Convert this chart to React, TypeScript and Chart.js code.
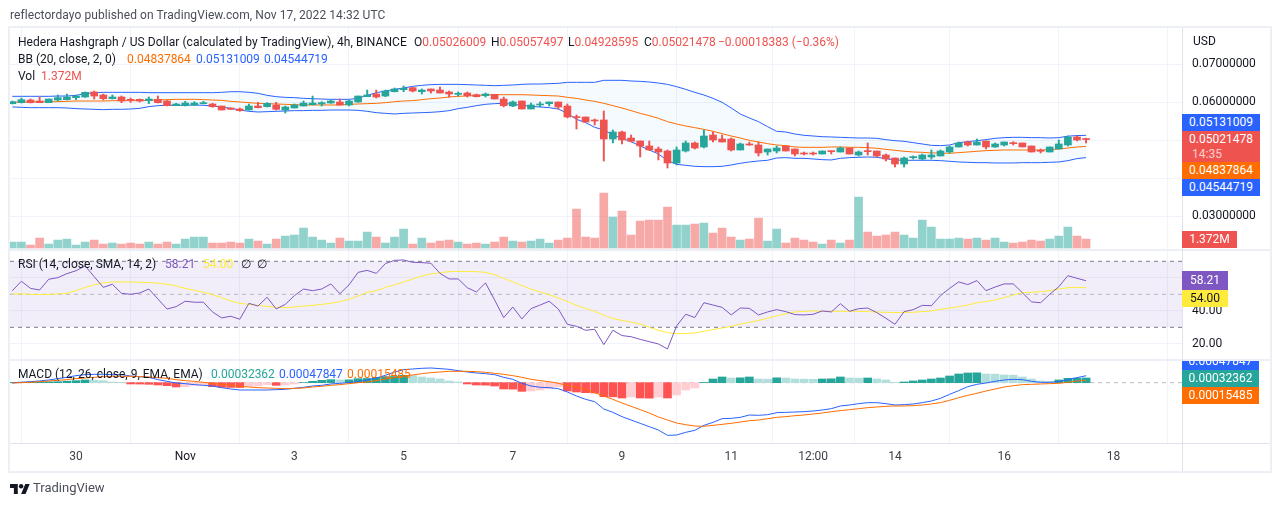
import React, { useEffect, useRef } from "react";
import { Chart, registerables } from "chart.js";

Chart.register(...registerables);

const opens = [
0.05965,0.05991,0.06061,0.06035,0.05991,0.06061,0.06070,0.06123,0.06140,0.06272,
0.06193,0.06096,0.06140,0.06061,0.06079,0.06044,0.06079,0.06035,0.05912,0.05912,
0.05930,0.05965,0.05956,0.05903,0.05851,0.05824,0.05798,0.05903,0.05886,0.05930,
0.05798,0.05851,0.05903,0.05938,0.05956,0.05982,0.06009,0.05930,0.06009,0.06149,
0.06219,0.06166,0.06280,0.06333,0.06386,0.06280,0.06351,0.06324,0.06272,0.06210,
0.06245,0.06201,0.06175,0.06210,0.06087,0.05903,0.06035,0.05824,0.05930,0.05965,
0.06009,0.05903,0.05614,0.05614,0.05535,0.05535,0.05035,0.05219,0.05061,0.04982,
0.04851,0.04772,0.04719,0.04404,0.04719,0.04930,0.04825,0.05140,0.05035,0.05035,
0.04746,0.04904,0.04877,0.04693,0.04719,0.04851,0.04772,0.04658,0.04658,0.04640,
0.04719,0.04693,0.04798,0.04614,0.04719,0.04719,0.04614,0.04535,0.04377,0.04544,
0.04509,0.04561,0.04588,0.04693,0.04825,0.04956,0.04877,0.04982,0.04825,0.04877,
0.04930,0.04930,0.04851,0.04737,0.04693,0.04772,0.04877,0.05088,0.05026];
const highs = [
0.06035,0.06114,0.06087,0.06140,0.06087,0.06193,0.06219,0.06193,0.06272,0.06298,
0.06219,0.06193,0.06166,0.06114,0.06087,0.06140,0.06166,0.06044,0.05973,0.06026,
0.06017,0.06026,0.05973,0.05903,0.05851,0.05851,0.05956,0.06000,0.05991,0.06000,
0.05903,0.05956,0.06035,0.06166,0.06017,0.06061,0.06087,0.06061,0.06166,0.06324,
0.06324,0.06324,0.06377,0.06430,0.06394,0.06351,0.06351,0.06403,0.06298,0.06272,
0.06272,0.06219,0.06245,0.06210,0.06140,0.06035,0.06035,0.05982,0.06009,0.06009,
0.06009,0.05956,0.05667,0.05614,0.05561,0.05772,0.05272,0.05246,0.05140,0.04982,
0.04982,0.04825,0.04746,0.04825,0.04982,0.04956,0.05272,0.05219,0.05140,0.05061,
0.04930,0.04956,0.04956,0.04772,0.04851,0.04851,0.04772,0.04693,0.04693,0.04719,
0.04719,0.04825,0.04798,0.04719,0.04930,0.04719,0.04640,0.04535,0.04561,0.04588,
0.04640,0.04746,0.04746,0.04851,0.04956,0.04982,0.05035,0.04982,0.04930,0.04956,
0.04965,0.04930,0.04851,0.04772,0.04825,0.05009,0.05114,0.05114,0.05057];
const lows = [
0.05956,0.05982,0.05982,0.05991,0.05991,0.06035,0.06061,0.06070,0.06131,0.06087,
0.06061,0.06087,0.05991,0.06000,0.06009,0.05965,0.05982,0.05903,0.05912,0.05903,
0.05912,0.05956,0.05868,0.05798,0.05807,0.05763,0.05798,0.05851,0.05877,0.05798,
0.05719,0.05851,0.05903,0.05930,0.05903,0.05973,0.05930,0.05903,0.06000,0.06149,
0.06114,0.06149,0.06272,0.06280,0.06272,0.06219,0.06245,0.06245,0.06140,0.06166,
0.06140,0.06140,0.06140,0.06087,0.05877,0.05886,0.05824,0.05824,0.05877,0.05903,
0.05824,0.05588,0.05298,0.05474,0.05403,0.04456,0.04930,0.04904,0.04956,0.04561,
0.04737,0.04483,0.04272,0.04351,0.04693,0.04772,0.04798,0.04956,0.04956,0.04719,
0.04746,0.04868,0.04588,0.04614,0.04667,0.04719,0.04588,0.04614,0.04614,0.04640,
0.04640,0.04693,0.04640,0.04588,0.04614,0.04561,0.04456,0.04298,0.04298,0.04509,
0.04483,0.04509,0.04588,0.04667,0.04825,0.04851,0.04877,0.04772,0.04816,0.04851,
0.04877,0.04825,0.04693,0.04667,0.04693,0.04772,0.04851,0.04982,0.04929];
const closes = [
0.06017,0.06070,0.05991,0.05991,0.06087,0.06123,0.06140,0.06166,0.06263,0.06166,
0.06096,0.06140,0.06035,0.06052,0.06035,0.06087,0.05991,0.05912,0.05956,0.05982,
0.05982,0.05982,0.05886,0.05798,0.05816,0.05781,0.05903,0.05859,0.05973,0.05816,
0.05877,0.05930,0.05982,0.05982,0.05991,0.06035,0.05930,0.06035,0.06166,0.06193,
0.06140,0.06298,0.06351,0.06368,0.06298,0.06324,0.06298,0.06245,0.06219,0.06237,
0.06175,0.06149,0.06219,0.06087,0.05912,0.06009,0.05824,0.05930,0.05956,0.06009,
0.05877,0.05614,0.05596,0.05482,0.05509,0.05035,0.05219,0.05009,0.04974,0.04851,
0.04746,0.04693,0.04404,0.04746,0.04930,0.04798,0.05114,0.05009,0.04956,0.04746,
0.04904,0.04877,0.04667,0.04772,0.04798,0.04719,0.04640,0.04640,0.04640,0.04719,
0.04702,0.04798,0.04640,0.04693,0.04702,0.04588,0.04509,0.04377,0.04535,0.04570,
0.04614,0.04614,0.04719,0.04825,0.04930,0.04877,0.04956,0.04825,0.04904,0.04956,
0.04912,0.04825,0.04693,0.04711,0.04825,0.04904,0.05088,0.05009,0.05021];
const volumesM = [
0.93,0.93,0.49,1.52,0.64,1.23,1.38,0.49,0.93,1.23,
0.64,0.79,0.64,0.79,0.64,0.93,0.64,0.93,0.64,1.38,
1.67,1.67,0.79,0.79,0.93,0.79,1.38,1.08,0.64,1.38,
1.82,1.97,3.00,1.67,1.23,0.79,1.52,1.08,1.08,2.41,
1.67,0.79,1.67,2.85,0.64,1.52,0.79,1.08,1.23,0.93,
0.64,0.79,0.64,0.93,1.67,1.08,0.93,1.08,1.38,0.79,
1.23,1.52,5.81,1.67,1.52,8.17,4.63,5.51,1.97,4.03,
4.18,4.18,6.10,3.44,3.44,3.59,3.74,2.26,3.00,1.67,
1.23,1.38,4.48,1.08,2.85,0.79,1.52,1.23,0.93,0.64,
1.23,0.79,1.23,7.58,2.41,1.82,1.97,2.41,1.97,1.52,
4.18,3.15,1.38,1.38,1.52,1.38,1.52,1.23,1.52,0.93,
0.79,0.93,1.23,1.08,1.38,1.82,3.15,1.82,1.372];
const bbUpper = [
0.06158,0.06158,0.06158,0.06158,0.06158,0.06166,0.06166,0.06184,0.06228,0.06254,
0.06263,0.06263,0.06263,0.06263,0.06263,0.06254,0.06254,0.06254,0.06254,0.06254,
0.06254,0.06254,0.06254,0.06263,0.06280,0.06280,0.06263,0.06237,0.06184,0.06149,
0.06131,0.06123,0.06105,0.06096,0.06087,0.06079,0.06079,0.06079,0.06105,0.06184,
0.06254,0.06298,0.06342,0.06377,0.06421,0.06447,0.06465,0.06473,0.06473,0.06473,
0.06465,0.06456,0.06447,0.06438,0.06447,0.06456,0.06473,0.06482,0.06482,0.06491,
0.06500,0.06526,0.06526,0.06526,0.06526,0.06579,0.06579,0.06579,0.06561,0.06552,
0.06535,0.06508,0.06473,0.06412,0.06342,0.06263,0.06193,0.06105,0.06000,0.05851,
0.05693,0.05588,0.05491,0.05360,0.05237,0.05219,0.05167,0.05132,0.05114,0.05096,
0.05088,0.05079,0.05070,0.05061,0.05061,0.05053,0.05018,0.04991,0.04974,0.04939,
0.04904,0.04868,0.04860,0.04877,0.04939,0.04965,0.04991,0.05018,0.05053,0.05070,
0.05079,0.05079,0.05070,0.05070,0.05061,0.05070,0.05110,0.05125,0.05131];
const bbBasis = [
0.06000,0.06009,0.06009,0.06017,0.06017,0.06017,0.06026,0.06035,0.06035,0.06035,
0.06035,0.06044,0.06044,0.06044,0.06044,0.06052,0.06061,0.06070,0.06079,0.06079,
0.06079,0.06070,0.06061,0.06052,0.06026,0.06009,0.05991,0.05973,0.05965,0.05956,
0.05947,0.05938,0.05930,0.05930,0.05930,0.05930,0.05930,0.05947,0.05956,0.05965,
0.05973,0.05991,0.06017,0.06035,0.06044,0.06070,0.06096,0.06114,0.06140,0.06158,
0.06166,0.06184,0.06193,0.06201,0.06201,0.06201,0.06201,0.06193,0.06184,0.06175,
0.06166,0.06131,0.06105,0.06061,0.06026,0.05973,0.05912,0.05851,0.05781,0.05710,
0.05649,0.05579,0.05491,0.05430,0.05377,0.05333,0.05289,0.05237,0.05175,0.05114,
0.05061,0.05000,0.04956,0.04912,0.04877,0.04860,0.04825,0.04816,0.04816,0.04816,
0.04825,0.04825,0.04816,0.04816,0.04807,0.04790,0.04763,0.04737,0.04711,0.04693,
0.04684,0.04667,0.04667,0.04658,0.04676,0.04693,0.04711,0.04728,0.04737,0.04746,
0.04746,0.04746,0.04746,0.04746,0.04754,0.04772,0.04798,0.04825,0.04838];
const bbLower = [
0.05877,0.05868,0.05859,0.05859,0.05859,0.05859,0.05851,0.05833,0.05824,0.05816,
0.05807,0.05816,0.05816,0.05824,0.05842,0.05886,0.05912,0.05921,0.05921,0.05921,
0.05930,0.05921,0.05903,0.05877,0.05842,0.05798,0.05763,0.05745,0.05754,0.05763,
0.05772,0.05781,0.05781,0.05789,0.05789,0.05798,0.05798,0.05798,0.05789,0.05763,
0.05728,0.05710,0.05693,0.05710,0.05719,0.05728,0.05737,0.05754,0.05781,0.05833,
0.05868,0.05912,0.05947,0.05965,0.05973,0.05947,0.05921,0.05895,0.05877,0.05859,
0.05824,0.05710,0.05553,0.05465,0.05342,0.05272,0.05140,0.05053,0.04965,0.04851,
0.04746,0.04640,0.04465,0.04369,0.04342,0.04316,0.04307,0.04307,0.04316,0.04351,
0.04395,0.04430,0.04456,0.04474,0.04535,0.04544,0.04526,0.04526,0.04509,0.04491,
0.04483,0.04526,0.04544,0.04553,0.04561,0.04553,0.04518,0.04483,0.04474,0.04474,
0.04474,0.04474,0.04465,0.04447,0.04430,0.04421,0.04412,0.04412,0.04404,0.04404,
0.04404,0.04412,0.04412,0.04412,0.04421,0.04430,0.04465,0.04518,0.04545];
const rsi = [
52.2,57.9,53.6,52.6,59.1,60.1,62.5,64.3,67.2,60.7,
54.2,56.1,50.6,50.0,50.8,53.2,47.2,41.1,42.5,45.8,
45.2,45.2,39.3,35.7,36.7,34.9,44.5,42.9,48.2,41.1,
43.9,49.2,53.2,52.2,53.2,56.3,50.4,55.7,63.3,64.5,
62.7,68.6,70.6,70.8,69.4,69.2,68.8,62.7,59.3,59.3,
54.0,51.4,56.9,46.6,35.9,42.3,35.1,41.3,43.5,45.8,
41.1,31.8,30.6,28.2,28.8,19.5,28.2,25.0,24.3,22.7,
21.3,19.9,16.9,30.8,37.9,35.9,44.9,43.5,42.1,37.5,
41.7,41.5,37.5,39.3,40.7,39.5,37.7,37.5,37.9,39.9,
39.3,44.3,39.7,41.3,41.7,38.9,35.5,31.8,39.5,40.7,
43.3,43.1,49.2,53.6,57.5,55.9,58.3,52.2,54.4,56.3,
56.3,51.0,45.4,44.9,50.0,54.6,61.3,59.7,58.21];
const rsiMa = [
50.2,50.2,50.0,49.8,50.0,50.2,50.6,52.2,54.2,55.7,
56.9,57.5,57.5,57.5,57.3,57.1,56.7,56.1,55.1,53.6,
52.4,51.2,49.8,48.0,46.0,44.5,43.9,43.3,42.7,42.1,
41.9,42.3,42.9,43.3,43.9,44.5,45.6,47.0,49.0,51.2,
52.2,54.2,55.7,57.5,59.3,61.1,62.3,63.1,63.7,63.9,
63.9,63.7,63.3,61.9,59.7,57.5,55.3,53.2,51.4,49.8,
47.8,45.6,43.3,41.5,39.7,37.3,35.3,34.2,33.2,32.0,
30.0,28.2,26.8,26.2,26.2,26.6,27.6,28.6,29.6,30.6,
32.0,33.0,34.2,35.5,36.9,38.3,39.3,39.7,39.9,39.7,
39.7,39.7,39.7,39.7,39.5,39.3,39.1,38.9,39.1,39.1,
39.5,39.9,40.9,41.7,42.5,43.5,44.9,45.6,46.6,48.0,
49.6,51.0,51.2,51.6,52.2,53.2,54.0,54.2,54.0];
const macdHist = [
0.000023,0.000035,0.000042,0.000046,0.000058,0.000069,0.000104,0.000139,0.000185,0.000173,
0.000139,0.000046,0.000023,-0.000092,-0.000097,-0.000116,-0.000162,-0.000208,-0.000300,-0.000277,
-0.000185,-0.000162,-0.000277,-0.000323,-0.000330,-0.000337,-0.000254,-0.000231,-0.000139,-0.000185,
-0.000162,-0.000092,0.000005,0.000092,0.000162,0.000208,0.000185,0.000196,0.000277,0.000289,
0.000370,0.000416,0.000427,0.000508,0.000485,0.000393,0.000323,0.000254,0.000116,0.000046,
-0.000092,-0.000162,-0.000173,-0.000231,-0.000439,-0.000450,-0.000601,-0.000578,-0.000508,-0.000416,
-0.000277,-0.000578,-0.000647,-0.000693,-0.000716,-0.000970,-0.000982,-0.001063,-0.000993,-0.001063,
-0.001074,-0.000993,-0.001063,-0.000855,-0.000508,-0.000370,0.000012,0.000254,0.000393,0.000323,
0.000335,0.000393,0.000254,0.000243,0.000335,0.000323,0.000254,0.000243,0.000231,0.000254,
0.000266,0.000393,0.000323,0.000312,0.000323,0.000254,0.000185,0.000023,0.000046,0.000116,
0.000185,0.000254,0.000323,0.000462,0.000601,0.000670,0.000681,0.000601,0.000589,0.000531,
0.000520,0.000393,0.000254,0.000116,0.000092,0.000185,0.000300,0.000312,0.00032362];
const macdLine = [
-0.000023,0.000023,0.000069,0.000116,0.000185,0.000277,0.000370,0.000485,0.000554,0.000578,
0.000578,0.000554,0.000554,0.000462,0.000416,0.000370,0.000208,0.000092,-0.000023,-0.000069,
-0.000139,-0.000185,-0.000231,-0.000347,-0.000439,-0.000508,-0.000508,-0.000508,-0.000508,-0.000485,
-0.000462,-0.000393,-0.000323,-0.000231,-0.000185,-0.000092,-0.000046,0,0.000069,0.000185,
0.000323,0.000508,0.000739,0.000901,0.000947,0.000993,0.001016,0.000970,0.000924,0.000832,
0.000739,0.000670,0.000624,0.000554,0.000370,0.000231,-0.000046,-0.000231,-0.000323,-0.000347,
-0.000416,-0.000647,-0.000924,-0.001155,-0.001317,-0.001825,-0.002056,-0.002356,-0.002587,-0.002818,
-0.003049,-0.003280,-0.003650,-0.003627,-0.003442,-0.003303,-0.002957,-0.002749,-0.002495,-0.002472,
-0.002402,-0.002241,-0.002264,-0.002218,-0.002079,-0.002056,-0.002033,-0.002010,-0.001964,-0.001894,
-0.001802,-0.001617,-0.001548,-0.001455,-0.001386,-0.001386,-0.001455,-0.001548,-0.001525,-0.001478,
-0.001386,-0.001271,-0.001086,-0.000809,-0.000554,-0.000277,-0.000116,-0.000023,0.000092,0.000185,
0.000231,0.000208,0.000092,0.000023,0.000023,0.000069,0.000208,0.000347,0.00047847];
const macdSignal = [
-0.000023,0,0.000023,0.000069,0.000116,0.000162,0.000208,0.000277,0.000323,0.000370,
0.000416,0.000439,0.000439,0.000439,0.000416,0.000393,0.000347,0.000300,0.000208,0.000139,
0.000092,0.000023,-0.000046,-0.000116,-0.000185,-0.000254,-0.000300,-0.000347,-0.000370,-0.000393,
-0.000416,-0.000393,-0.000370,-0.000300,-0.000254,-0.000185,-0.000139,-0.000069,0,0.000046,
0.000139,0.000254,0.000347,0.000462,0.000531,0.000624,0.000693,0.000739,0.000785,0.000785,
0.000785,0.000762,0.000716,0.000647,0.000578,0.000485,0.000370,0.000231,0.000139,0.000069,
-0.000046,-0.000185,-0.000323,-0.000462,-0.000693,-0.000924,-0.001155,-0.001409,-0.001640,-0.001871,
-0.002102,-0.002379,-0.002587,-0.002795,-0.002911,-0.003003,-0.003026,-0.002957,-0.002888,-0.002818,
-0.002726,-0.002633,-0.002587,-0.002495,-0.002402,-0.002356,-0.002287,-0.002241,-0.002171,-0.002102,
-0.002010,-0.001940,-0.001871,-0.001802,-0.001733,-0.001686,-0.001640,-0.001617,-0.001617,-0.001594,
-0.001548,-0.001478,-0.001386,-0.001224,-0.001040,-0.000878,-0.000739,-0.000578,-0.000439,-0.000300,
-0.000208,-0.000139,-0.000116,-0.000092,-0.000069,-0.000046,0.000023,0.000116,0.00015485];

const xTickBars = [7, 19, 31, 43, 55, 67, 79, 88, 97, 109, 121];
const xTickLabels = ["30", "Nov", "3", "5", "7", "9", "11", "12:00", "14", "16", "18"];
const priceTicks = [0.03, 0.04, 0.05, 0.06, 0.07];
const rsiTicks = [20, 40, 60];

const UP = "#26a69a";
const DOWN = "#ef5350";
const BLUE = "#2962ff";
const ORANGE = "#ff6d00";
const PURPLE = "#7e57c2";
const YELLOW = "#ffeb3b";
const FONT = "Roboto, sans-serif";

const PANES: Record<string, [number, number]> = {
  yPrice: [28, 249],
  yVol: [28, 248.5],
  yRsi: [251, 359],
  yMacd: [361, 443],
};

const xy = (a: number[]) => a.map((y, i) => ({ x: i, y }));
const isUp = (i: number) => closes[i] >= opens[i];
const XMIN = -0.253;
const XMAX = 128.54;
const flat = (v: number) => [{ x: XMIN, y: v }, { x: XMAX, y: v }];

const paneLayout = {
  id: "paneLayout",
  afterLayout(chart: any) {
    for (const id of Object.keys(PANES)) {
      const s = chart.scales[id];
      s.top = PANES[id][0];
      s.bottom = PANES[id][1];
      s.height = s.bottom - s.top;
      s.configure();
    }
  },
  afterDraw(chart: any) {
    const c = chart.ctx;
    c.save();
    c.strokeStyle = "#eceff5";
    c.lineWidth = 2;
    c.strokeRect(9, 27, 1262, 445);
    c.beginPath();
    c.moveTo(10, 250); c.lineTo(1270, 250);
    c.moveTo(10, 360); c.lineTo(1270, 360);
    c.stroke();
    c.strokeStyle = "#e0e3eb";
    c.lineWidth = 1;
    c.beginPath();
    c.moveTo(10, 443.5); c.lineTo(1270, 443.5);
    c.moveTo(1182.5, 28); c.lineTo(1182.5, 471);
    c.stroke();
    c.restore();
  },
};

const yScale = (min: number, max: number, ticks: number[], fmt: (v: number) => string, grid: boolean) => ({
  position: "right" as const,
  stack: "panes",
  min,
  max,
  afterFit(s: any) { s.width = 88; },
  afterBuildTicks(s: any) { s.ticks = ticks.map((value) => ({ value })); },
  border: { display: false },
  grid: { display: grid, color: "#f0f3fa", drawTicks: false, lineWidth: 1 },
  ticks: {
    autoSkip: false,
    padding: 10,
    color: "#131722",
    font: { family: FONT, size: 12 },
    callback: (v: any) => fmt(Number(v)),
  },
});

const tag = (left: number, top: number, width: number, height: number, bg: string, color = "#fff"): React.CSSProperties => ({
  position: "absolute", left, top, width, height, background: bg, color,
  font: `12px ${FONT}`, lineHeight: `${height}px`, textAlign: "center", overflow: "hidden", whiteSpace: "nowrap",
});

const legend = (left: number, top: number): React.CSSProperties => ({
  position: "absolute", left, top, font: `12px ${FONT}`, lineHeight: "16px", color: "#131722",
  whiteSpace: "pre",
});

export default function App() {
  const ref = useRef<HTMLCanvasElement | null>(null);
  useEffect(() => {
    if (!ref.current) return;
    const idx = opens.map((_, i) => i);
    const bar = (thick: number) => ({ barThickness: thick, grouped: false, borderWidth: 0 });
    const line = (color: string, axis: string, order: number) => ({
      type: "line" as const, yAxisID: axis, borderColor: color, borderWidth: 1, pointRadius: 0, tension: 0, order,
    });
    const histColor = (i: number) => {
      const v = macdHist[i];
      const p = i > 0 ? macdHist[i - 1] : 0;
      if (v >= 0) return v >= p ? "#26a69a" : "#b2dfdb";
      return v < p ? "#ff5252" : "#ffcdd2";
    };
    const chart = new Chart(ref.current, {
      type: "bar",
      data: {
        datasets: [
          { ...bar(8), label: "Vol", yAxisID: "yVol", order: 30,
            data: xy(volumesM), backgroundColor: idx.map((i) => (isUp(i) ? "rgba(38,166,154,0.5)" : "rgba(239,83,80,0.5)")) },
          { ...line(BLUE, "yPrice", 20), label: "BB upper", data: xy(bbUpper), fill: { target: 2 }, backgroundColor: "rgba(33,150,243,0.05)" },
          { ...line(BLUE, "yPrice", 19), label: "BB lower", data: xy(bbLower) },
          { ...line(ORANGE, "yPrice", 18), label: "BB basis", data: xy(bbBasis) },
          { ...bar(1.3), label: "Wick", yAxisID: "yPrice", order: 10,
            data: idx.map((i) => ({ x: i, y: [lows[i], highs[i]] })), backgroundColor: idx.map((i) => (isUp(i) ? UP : DOWN)) },
          { ...bar(7), label: "Body", yAxisID: "yPrice", order: 9, minBarLength: 1,
            data: idx.map((i) => ({ x: i, y: [opens[i], closes[i]] })), backgroundColor: idx.map((i) => (isUp(i) ? UP : DOWN)) },
          { ...line("#787b86", "yRsi", 8), label: "RSI 70", data: flat(70), borderDash: [4, 4], fill: { target: 7 }, backgroundColor: "rgba(126,87,194,0.1)" },
          { ...line("#787b86", "yRsi", 7), label: "RSI 30", data: flat(30), borderDash: [4, 4] },
          { ...line("rgba(120,123,134,0.5)", "yRsi", 7), label: "RSI 50", data: flat(50), borderDash: [4, 4] },
          { ...line(YELLOW, "yRsi", 6), label: "RSI MA", data: xy(rsiMa) },
          { ...line(PURPLE, "yRsi", 5), label: "RSI", data: xy(rsi) },
          { ...line("rgba(120,123,134,0.5)", "yMacd", 4.5), label: "Zero", data: flat(0), borderDash: [4, 4] },
          { ...bar(8), label: "Histogram", yAxisID: "yMacd", order: 4, data: xy(macdHist), backgroundColor: idx.map(histColor) },
          { ...line(BLUE, "yMacd", 3), label: "MACD", data: xy(macdLine) },
          { ...line(ORANGE, "yMacd", 2), label: "Signal", data: xy(macdSignal) },
        ] as any,
      },
      options: {
        responsive: false,
        animation: false,
        layout: { autoPadding: false, padding: { left: 10, right: 10, top: 28, bottom: 35 } },
        plugins: { legend: { display: false }, tooltip: { enabled: false } },
        scales: {
          x: {
            type: "linear",
            min: XMIN,
            max: XMAX,
            offset: false,
            afterFit(s: any) { s.height = 28; },
            afterBuildTicks(s: any) { s.ticks = xTickBars.map((value) => ({ value })); },
            border: { display: false },
            grid: { color: "#f0f3fa", drawTicks: false, lineWidth: 1 },
            ticks: {
              autoSkip: false,
              maxRotation: 0,
              padding: 7,
              font: { family: FONT, size: 12 },
              color: (ctx: any) => (ctx.tick && ctx.tick.value === 19 ? "#131722" : "#3d4149"),
              callback: (v: any) => {
                const k = xTickBars.indexOf(Number(v));
                return k >= 0 ? xTickLabels[k] : "";
              },
            },
          },
          yPrice: yScale(0.0214, 0.07956, priceTicks, (v) => v.toFixed(8), true),
          yVol: { position: "right", display: false, min: 0, max: 32.5, grid: { display: false } },
          yRsi: yScale(10.8, 76.24, rsiTicks, (v) => v.toFixed(2), true),
          yMacd: yScale(-0.00418, 0.0015, [], (v) => v.toFixed(8), false),
        } as any,
      },
      plugins: [paneLayout],
    });
    return () => chart.destroy();
  }, []);

  const red = { color: DOWN };
  return (
    <div style={{ position: "absolute", left: 0, top: 0, width: 1280, height: 506, overflow: "hidden", background: "#fff" }}>
      <canvas ref={ref} width={1280} height={506} style={{ position: "absolute", left: 0, top: 0, display: "block" }} />

      <div style={{ ...legend(10, 7), color: "#4a4e59", letterSpacing: "0.08px" }}>reflectordayo published on TradingView.com, Nov 17, 2022 14:32 UTC</div>
      <div style={{ ...legend(18, 34), letterSpacing: "0.06px" }}>Hedera Hashgraph / US Dollar (calculated by TradingView), 4h, BINANCE</div>
      <div style={legend(414, 34)}>O<span style={red}>0.05026009</span></div>
      <div style={legend(491, 34)}>H<span style={red}>0.05057497</span></div>
      <div style={legend(568, 34)}>L<span style={red}>0.04928595</span></div>
      <div style={legend(644, 34)}>C<span style={red}>0.05021478</span></div>
      <div style={{ ...legend(718, 34), ...red }}>−0.00018383 (−0.36%)</div>
      <div style={legend(18, 51)}>BB (20, close, 2, 0)</div>
      <div style={{ ...legend(127, 51), color: ORANGE }}>0.04837864</div>
      <div style={{ ...legend(196, 51), color: BLUE }}>0.05131009</div>
      <div style={{ ...legend(264, 51), color: BLUE }}>0.04544719</div>
      <div style={legend(18, 68)}>{"Vol  "}<span style={red}>1.372M</span></div>
      <div style={legend(18, 256)}>RSI (14, close, SMA, 14, 2)</div>
      <div style={{ ...legend(165, 256), color: PURPLE }}>58.21</div>
      <div style={{ ...legend(203, 256), color: YELLOW }}>54.00</div>
      <div style={legend(241, 256)}>{"∅  ∅"}</div>
      <div style={legend(18, 366)}>MACD (12, 26, close, 9, EMA, EMA)</div>
      <div style={{ ...legend(211, 366), color: UP }}>0.00032362</div>
      <div style={{ ...legend(279, 366), color: BLUE }}>0.00047847</div>
      <div style={{ ...legend(347, 366), color: ORANGE }}>0.00015485</div>

      <div style={{ ...legend(1193, 33) }}>USD</div>
      <div style={tag(1182, 114, 78, 17, BLUE)}>0.05131009</div>
      <div style={{ ...tag(1182, 131, 78, 31, DOWN), lineHeight: "15px", paddingTop: 1, height: 30 }}>
        0.05021478<br /><span style={{ opacity: 0.7, display: "block", textAlign: "left", paddingLeft: 10 }}>14:35</span>
      </div>
      <div style={tag(1182, 162, 78, 17, ORANGE)}>0.04837864</div>
      <div style={tag(1182, 179, 78, 17, BLUE)}>0.04544719</div>
      <div style={tag(1182, 231, 55, 17, DOWN)}>1.372M</div>
      <div style={tag(1182, 271, 46, 19, PURPLE)}>58.21</div>
      <div style={tag(1182, 290, 46, 17, YELLOW, "#131722")}>54.00</div>
      <div style={{ position: "absolute", left: 1182, top: 361, width: 77, height: 9, background: BLUE, overflow: "hidden" }}>
        <div style={{ ...tag(0, -8, 77, 17, BLUE) }}>0.00047847</div>
      </div>
      <div style={tag(1182, 370, 77, 17, UP)}>0.00032362</div>
      <div style={tag(1182, 387, 77, 17, ORANGE)}>0.00015485</div>

      <svg width="20" height="10" viewBox="0 4 36 18" style={{ position: "absolute", left: 10, top: 484 }}>
        <path d="M14 22H7V11H0V4h14v18zM28 22h-8l7.5-18h8L28 22z" fill="#131722" />
        <circle cx="20" cy="8" r="4" fill="#131722" />
      </svg>
      <div style={{ position: "absolute", left: 33, top: 480, font: `13px ${FONT}`, lineHeight: "16px", color: "#4a4e59" }}>TradingView</div>
    </div>
  );
}
